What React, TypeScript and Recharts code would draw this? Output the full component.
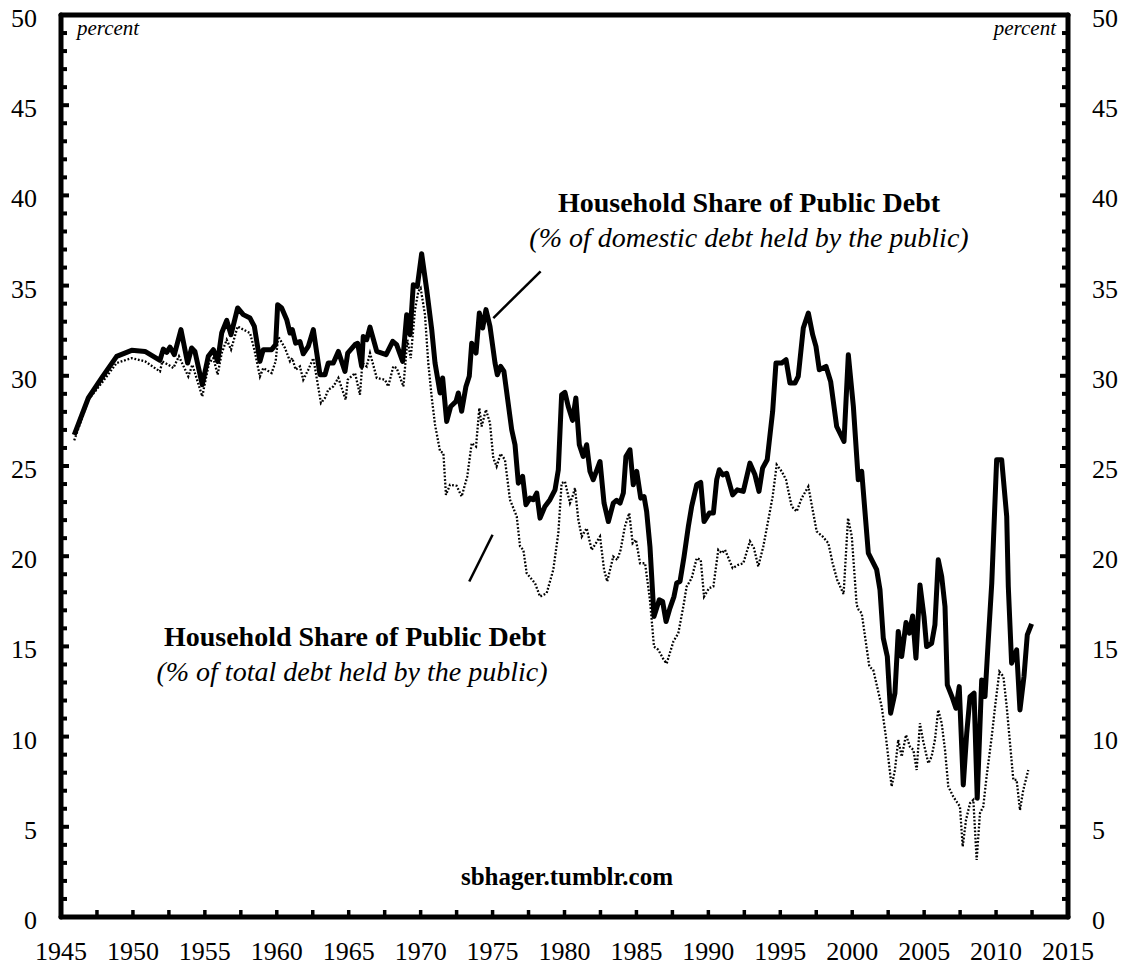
import React from "react";
import { LineChart, Line, XAxis, YAxis, ReferenceLine } from "recharts";

// --- Household share, % of domestic debt held by the public (solid) ---
const domYears = [
  1945.92, 1946.9, 1947.83, 1948.87, 1949.91, 1950.84, 1951.88, 1952.11, 1952.35, 1952.58,
  1952.88, 1953.34, 1953.8, 1954.08, 1954.31, 1954.82, 1955.24, 1955.59, 1955.89, 1956.17,
  1956.52, 1956.82, 1957.28, 1957.67, 1958.14, 1958.44, 1958.83, 1959.06, 1959.64, 1959.92,
  1960.06, 1960.34, 1960.69, 1960.92, 1961.08, 1961.31, 1961.61, 1961.84, 1962.19, 1962.54,
  1963.0, 1963.35, 1963.58, 1963.93, 1964.28, 1964.74, 1964.93, 1965.44, 1965.62, 1965.9,
  1966.01, 1966.25, 1966.48, 1966.95, 1967.6, 1968.06, 1968.33, 1968.75, 1969.03, 1969.26,
  1969.49, 1969.77, 1970.07, 1970.42, 1970.77, 1971.0, 1971.35, 1971.53, 1971.81, 1972.09,
  1972.46, 1972.62, 1972.85, 1973.15, 1973.38, 1973.55, 1973.85, 1974.08, 1974.31, 1974.54,
  1974.82, 1975.17, 1975.33, 1975.56, 1975.79, 1976.33, 1976.56, 1976.79, 1977.09, 1977.32,
  1977.6, 1977.83, 1978.07, 1978.3, 1978.64, 1978.99, 1979.34, 1979.57, 1979.8, 1980.03,
  1980.26, 1980.56, 1980.79, 1981.03, 1981.3, 1981.54, 1981.77, 1982.0, 1982.47, 1982.75,
  1983.05, 1983.39, 1983.63, 1983.86, 1984.09, 1984.27, 1984.55, 1984.78, 1985.02, 1985.3,
  1985.53, 1985.71, 1985.94, 1986.22, 1986.59, 1986.82, 1987.06, 1987.33, 1987.61, 1987.8,
  1988.03, 1988.31, 1988.61, 1988.84, 1989.19, 1989.47, 1989.7, 1990.07, 1990.35, 1990.58,
  1990.76, 1991.0, 1991.27, 1991.69, 1992.01, 1992.43, 1992.89, 1993.24, 1993.52, 1993.77,
  1994.09, 1994.47, 1994.7, 1995.1, 1995.4, 1995.67, 1996.02, 1996.25, 1996.6, 1996.95,
  1997.25, 1997.48, 1997.71, 1998.18, 1998.5, 1998.92, 1999.43, 1999.73, 2000.08, 2000.42,
  2000.66, 2001.12, 2001.7, 2001.93, 2002.16, 2002.44, 2002.67, 2002.97, 2003.2, 2003.44,
  2003.74, 2003.97, 2004.2, 2004.43, 2004.71, 2004.99, 2005.17, 2005.52, 2005.75, 2005.98,
  2006.22, 2006.45, 2006.61, 2006.98, 2007.21, 2007.44, 2007.72, 2007.96, 2008.19, 2008.47,
  2008.69, 2009.0, 2009.23, 2009.46, 2009.7, 2010.04, 2010.39, 2010.74, 2010.85, 2011.08,
  2011.43, 2011.66, 2011.94, 2012.17, 2012.47,
];
const domValues = [
  26.73, 28.77, 29.88, 31.08, 31.41, 31.35, 30.86, 31.48, 31.3, 31.59,
  31.17, 32.56, 30.71, 31.54, 31.35, 29.5, 31.08, 31.45, 30.8, 32.37,
  33.07, 32.28, 33.76, 33.39, 33.2, 32.74, 30.8, 31.45, 31.45, 31.73,
  33.94, 33.76, 33.11, 32.37, 32.56, 31.81, 31.9, 31.22, 31.63, 32.56,
  30.06, 30.06, 30.71, 30.71, 31.35, 30.24, 31.26, 31.73, 31.8, 30.52,
  32.18, 32.0, 32.7, 31.35, 31.17, 31.91, 31.73, 30.8, 33.39, 32.28,
  35.05, 34.96, 36.77, 34.78, 32.56, 30.71, 29.05, 29.88, 27.47, 28.3,
  28.58, 29.05, 28.03, 29.41, 29.97, 31.81, 31.26, 33.48, 32.65, 33.67,
  32.74, 30.71, 30.06, 30.52, 30.24, 27.01, 26.18, 24.05, 24.42, 22.85,
  23.22, 23.13, 23.5, 22.11, 22.76, 23.13, 23.68, 24.79, 28.95, 29.08,
  28.3, 27.53, 28.77, 26.18, 25.53, 26.18, 24.7, 24.24, 25.25, 22.94,
  21.92, 22.94, 23.1, 22.94, 23.5, 25.53, 25.9, 23.96, 24.7, 23.22,
  23.31, 22.48, 20.54, 16.66, 17.58, 17.49, 16.38, 17.12, 17.76, 18.51,
  18.6, 19.98, 21.65, 22.76, 23.96, 24.09, 21.92, 22.39, 22.4, 24.24,
  24.79, 24.51, 24.6, 23.4, 23.68, 23.59, 25.16, 24.51, 23.59, 24.88,
  25.35, 28.03, 30.71, 30.71, 30.89, 29.6, 29.6, 29.97, 32.65, 33.48,
  32.28, 31.63, 30.34, 30.52, 29.69, 27.19, 26.36, 31.17, 28.3, 24.24,
  24.7, 20.17, 19.25, 18.14, 15.46, 14.44, 11.3, 12.41, 15.83, 14.44,
  16.32, 15.73, 16.69, 14.35, 18.41, 16.66, 14.99, 15.17, 16.2, 19.8,
  18.87, 17.21, 12.87, 12.12, 11.57, 12.77, 7.32, 10.19, 12.22, 12.41,
  6.58, 13.14, 12.22, 15.36, 18.5, 25.35, 25.35, 22.2, 18.32, 14.07,
  14.81, 11.48, 13.33, 15.64, 16.25,
];

// --- Household share, % of total debt held by the public (dotted) ---
const totYears = [
  1945.92, 1946.9, 1947.83, 1948.87, 1949.91, 1950.84, 1951.88, 1952.04, 1952.46, 1952.81,
  1953.2, 1953.85, 1954.13, 1954.82, 1955.29, 1955.59, 1955.89, 1956.17, 1956.52, 1956.82,
  1957.28, 1957.67, 1958.14, 1958.44, 1958.83, 1959.06, 1959.64, 1959.92, 1960.1, 1960.57,
  1960.92, 1961.08, 1961.31, 1961.61, 1961.84, 1962.19, 1962.54, 1963.07, 1963.35, 1963.58,
  1963.93, 1964.28, 1964.79, 1964.93, 1965.44, 1965.78, 1965.95, 1966.25, 1966.48, 1966.95,
  1967.52, 1967.75, 1968.1, 1968.33, 1968.8, 1969.08, 1969.31, 1969.61, 1969.84, 1970.0,
  1970.3, 1970.53, 1970.77, 1971.0, 1971.35, 1971.58, 1971.76, 1972.04, 1972.5, 1972.85,
  1973.24, 1973.55, 1973.85, 1974.08, 1974.24, 1974.54, 1974.82, 1975.05, 1975.28, 1975.56,
  1975.86, 1976.21, 1976.68, 1976.91, 1977.14, 1977.37, 1977.95, 1978.3, 1978.76, 1979.22,
  1979.57, 1979.8, 1980.03, 1980.38, 1980.56, 1980.73, 1980.96, 1981.2, 1981.54, 1981.89,
  1982.47, 1982.75, 1982.97, 1983.39, 1983.67, 1983.9, 1984.2, 1984.5, 1984.74, 1984.97,
  1985.25, 1985.6, 1985.94, 1986.22, 1986.52, 1986.87, 1987.1, 1987.57, 1987.91, 1988.26,
  1988.49, 1988.84, 1989.19, 1989.47, 1989.7, 1990.05, 1990.35, 1990.69, 1990.93, 1991.16,
  1991.69, 1992.08, 1992.43, 1992.89, 1993.17, 1993.47, 1993.82, 1994.17, 1994.47, 1994.75,
  1995.1, 1995.4, 1995.79, 1996.14, 1996.49, 1996.95, 1997.25, 1997.53, 1997.95, 1998.34,
  1998.64, 1998.95, 1999.4, 1999.71, 1999.97, 2000.31, 2000.45, 2000.66, 2001.19, 2001.46,
  2002.05, 2002.34, 2002.74, 2002.97, 2003.2, 2003.44, 2003.74, 2004.01, 2004.25, 2004.48,
  2004.71, 2004.94, 2005.29, 2005.52, 2005.75, 2005.98, 2006.22, 2006.45, 2006.68, 2007.03,
  2007.26, 2007.49, 2007.68, 2007.91, 2008.19, 2008.42, 2008.65, 2008.88, 2009.11, 2009.34,
  2009.7, 2009.93, 2010.23, 2010.51, 2010.74, 2010.97, 2011.2, 2011.43, 2011.66, 2011.89,
  2012.24,
];
const totValues = [
  26.42, 28.67, 29.6, 30.71, 30.98, 30.8, 30.24, 30.8, 30.61, 30.43,
  31.08, 29.96, 30.61, 28.86, 30.71, 30.98, 30.06, 31.26, 32.0, 31.45,
  32.74, 32.56, 32.37, 31.45, 29.96, 30.43, 30.15, 30.8, 32.18, 31.54,
  30.8, 30.98, 30.34, 30.52, 29.78, 30.34, 30.98, 28.49, 28.77, 29.23,
  29.41, 29.88, 28.67, 29.78, 30.15, 28.95, 30.71, 30.52, 31.26, 29.88,
  29.78, 29.41, 30.52, 30.43, 29.41, 32.0, 30.98, 33.67, 34.68, 34.86,
  33.39, 30.71, 28.8, 27.29, 25.81, 25.72, 23.4, 23.96, 23.9, 23.31,
  24.42, 26.27, 26.08, 28.21, 27.19, 28.12, 27.38, 25.44, 24.97, 25.68,
  25.35, 23.13, 22.2, 20.54, 20.35, 19.06, 18.5, 17.76, 17.95, 19.25,
  21.28, 24.05, 24.14, 22.94, 23.31, 23.77, 22.02, 21.09, 21.55, 20.35,
  21.09, 19.25, 18.6, 19.98, 19.8, 20.35, 21.65, 22.39, 20.72, 20.91,
  19.61, 19.61, 17.58, 14.99, 14.81, 14.3, 14.05, 15.27, 15.73, 17.21,
  18.32, 18.78, 19.89, 19.8, 17.76, 18.23, 18.32, 20.35, 20.17, 20.35,
  19.34, 19.52, 19.61, 20.82, 20.45, 19.43, 20.54, 22.02, 23.31, 25.07,
  24.7, 24.24, 22.76, 22.48, 23.22, 23.86, 22.57, 21.37, 21.09, 20.72,
  19.61, 18.7, 17.9, 22.11, 21.09, 17.3, 17.03, 16.84, 13.88, 13.7,
  11.66, 10.0, 7.23, 8.15, 9.82, 8.89, 10.09, 9.45, 9.26, 8.15,
  10.74, 9.72, 8.52, 8.89, 9.82, 11.48, 10.74, 9.26, 7.23, 6.67,
  6.39, 6.12, 3.9, 5.38, 6.31, 6.49, 3.16, 5.75, 6.12, 7.78,
  10.0, 11.66, 13.6, 13.33, 11.66, 9.63, 7.6, 7.6, 5.93, 7.04,
  8.15,
];

const yearLabels = [1945, 1950, 1955, 1960, 1965, 1970, 1975, 1980, 1985, 1990, 1995, 2000, 2005, 2010, 2015];
const valueLabels = [0, 5, 10, 15, 20, 25, 30, 35, 40, 45, 50];

const domData = domYears.map((year, i) => ({ year, value: domValues[i] }));
const totData = totYears.map((year, i) => ({ year, value: totValues[i] }));

// ticks every 2.5 years on x, every 1 point on y; labels only on the round ones
const xTicks = yearLabels.flatMap((y, i) => (i < yearLabels.length - 1 ? [y, y + 2.5] : [y]));
const yTicks = valueLabels.flatMap((v, i) =>
  i < valueLabels.length - 1 ? [v, v + 1, v + 2, v + 3, v + 4] : [v]
);

const FONT = '"Liberation Serif", "Times New Roman", serif';

const BottomTick = (props: any) => {
  const { x, y, payload } = props;
  const v = payload.value;
  return (
    <g>
      {v > 1945 && v < 2015 && (
        <line x1={x} x2={x} y1={y} y2={y - 7} stroke="#000" strokeWidth={3.5} />
      )}
      {yearLabels.includes(v) && (
        <text x={x} y={y + 43} textAnchor="middle" fontFamily={FONT} fontSize={26} fill="#000">
          {v}
        </text>
      )}
    </g>
  );
};

const LeftTick = (props: any) => {
  const { x, y, payload } = props;
  const v = payload.value;
  const major = valueLabels.includes(v);
  return (
    <g>
      {v > 0 && v < 50 && (
        <line x1={x} x2={x + (major ? 8 : 6)} y1={y} y2={y} stroke="#000" strokeWidth={4} />
      )}
      {major && (
        <text x={x - 24} y={y} dy={12} textAnchor="end" fontFamily={FONT} fontSize={26} fill="#000">
          {v}
        </text>
      )}
    </g>
  );
};

const RightTick = (props: any) => {
  const { x, y, payload } = props;
  const v = payload.value;
  const major = valueLabels.includes(v);
  return (
    <g>
      {v > 0 && v < 50 && (
        <line x1={x} x2={x - (major ? 8 : 6)} y1={y} y2={y} stroke="#000" strokeWidth={4} />
      )}
      {major && (
        <text x={x + 24} y={y} dy={12} textAnchor="start" fontFamily={FONT} fontSize={26} fill="#000">
          {v}
        </text>
      )}
    </g>
  );
};

const frameLine = { stroke: "#000", strokeWidth: 5, strokeLinecap: "round" as const };

const textBase: React.CSSProperties = {
  position: "absolute",
  fontFamily: FONT,
  color: "#000",
  whiteSpace: "nowrap",
  lineHeight: 1,
};

export default function App() {
  return (
    <div style={{ position: "absolute", left: 0, top: 0, width: 1130, height: 965, background: "#fff" }}>
      <LineChart
        width={1130}
        height={965}
        margin={{ top: 14, right: 61, bottom: 47, left: 60 }}
      >
        <XAxis
          dataKey="year"
          type="number"
          domain={[1945, 2015]}
          ticks={xTicks}
          interval={0}
          height={1}
          tickSize={0}
          tickMargin={0}
          tick={BottomTick}
          tickLine={false}
          axisLine={frameLine}
          allowDataOverflow
        />
        <XAxis
          xAxisId="top"
          orientation="top"
          type="number"
          domain={[1945, 2015]}
          height={1}
          tick={false}
          tickLine={false}
          axisLine={frameLine}
          allowDataOverflow
        />
        <YAxis
          yAxisId="left"
          type="number"
          domain={[0, 50]}
          ticks={yTicks}
          interval={0}
          width={1}
          tickSize={0}
          tickMargin={0}
          tick={LeftTick}
          tickLine={false}
          axisLine={frameLine}
          allowDataOverflow
        />
        <YAxis
          yAxisId="right"
          orientation="right"
          type="number"
          domain={[0, 50]}
          ticks={yTicks}
          interval={0}
          width={1}
          tickSize={0}
          tickMargin={0}
          tick={RightTick}
          tickLine={false}
          axisLine={frameLine}
          allowDataOverflow
        />
        <Line
          yAxisId="left"
          data={totData}
          dataKey="value"
          type="linear"
          stroke="#000"
          strokeWidth={2.3}
          strokeDasharray="1.8 1.8"
          dot={false}
          activeDot={false}
          isAnimationActive={false}
        />
        <Line
          yAxisId="left"
          data={domData}
          dataKey="value"
          type="linear"
          stroke="#000"
          strokeWidth={5}
          strokeLinejoin="round"
          dot={false}
          activeDot={false}
          isAnimationActive={false}
        />
        {/* callout pointers */}
        <ReferenceLine
          yAxisId="left"
          segment={[{ x: 1975.05, y: 33.2 }, { x: 1978.34, y: 35.79 }]}
          stroke="#000"
          strokeWidth={2.5}
        />
        <ReferenceLine
          yAxisId="left"
          segment={[{ x: 1973.38, y: 18.6 }, { x: 1975.0, y: 21.19 }]}
          stroke="#000"
          strokeWidth={2.5}
        />
      </LineChart>

      <div style={{ ...textBase, left: 77, top: 36 - 0.8375 * 21, fontSize: 21, fontStyle: "italic" }}>
        percent
      </div>
      <div style={{ ...textBase, right: 1130 - 1056, top: 36 - 0.8375 * 21, fontSize: 21, fontStyle: "italic" }}>
        percent
      </div>

      <div style={{ ...textBase, left: 749, transform: "translateX(-50%)", top: 212 - 0.8375 * 28, fontSize: 28, fontWeight: "bold" }}>
        Household Share of Public Debt
      </div>
      <div style={{ ...textBase, left: 749, transform: "translateX(-50%)", top: 247 - 0.8375 * 28, fontSize: 28, fontStyle: "italic" }}>
        (% of domestic debt held by the public)
      </div>

      <div style={{ ...textBase, left: 355, transform: "translateX(-50%)", top: 646 - 0.8375 * 28, fontSize: 28, fontWeight: "bold" }}>
        Household Share of Public Debt
      </div>
      <div style={{ ...textBase, left: 352, transform: "translateX(-50%)", top: 681 - 0.8375 * 28, fontSize: 28, fontStyle: "italic" }}>
        (% of total debt held by the public)
      </div>

      <div style={{ ...textBase, left: 567, transform: "translateX(-50%)", top: 885 - 0.8375 * 25, fontSize: 25, fontWeight: "bold" }}>
        sbhager.tumblr.com
      </div>
    </div>
  );
}
